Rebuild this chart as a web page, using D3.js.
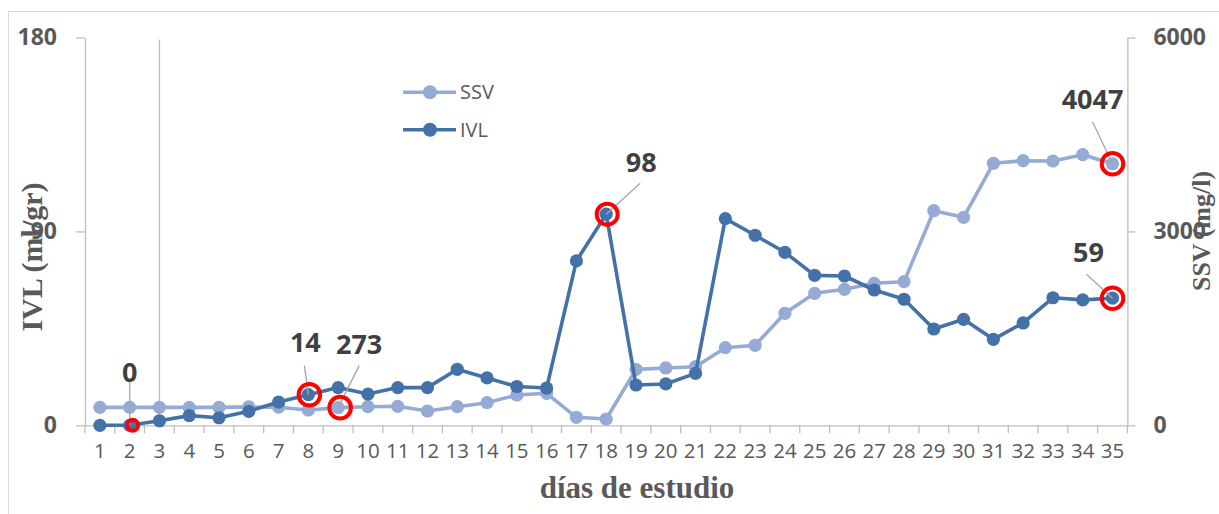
<!DOCTYPE html>
<html>
<head>
<meta charset="utf-8">
<script src="https://cdn.jsdelivr.net/npm/d3@7"></script>
<style>
  html, body { margin: 0; padding: 0; background: #fff; }
  svg { display: block; }
</style>
</head>
<body>
<svg id="chart" width="1219" height="514"></svg>
<script>
// ---------- data ----------
const days = d3.range(1, 36);
const ivl = [0, 0, 2.1, 4.5, 3.5, 6.5, 10.8, 14.2, 17.5, 14.5, 17.5, 17.5, 26, 22, 18, 17.3, 76.3, 98,
  18.7, 19.2, 24.1, 95.9, 88.2, 80.3, 69.6, 69.3, 62.8, 58.5, 44.7, 49.2, 39.9, 47.5, 59.2, 58.2, 59];
const ssv = [278, 278, 278, 278, 278, 285, 280, 237, 273, 288, 294, 221, 288, 350, 469, 495, 124, 97,
  866, 887, 907, 1201, 1238, 1733, 2042, 2104, 2197, 2222, 3320, 3218, 4054, 4094, 4089, 4187, 4047];
const leftTicks = [0, 90, 180];
const rightTicks = [0, 3000, 6000];
const seriesNames = ["SSV", "IVL"];
// highlighted points: [series, day]
const highlights = [["IVL", 2], ["IVL", 8], ["SSV", 9], ["IVL", 18], ["SSV", 35], ["IVL", 35]];
// annotated values: [series, day]
const annotated = [["IVL", 2], ["IVL", 8], ["SSV", 9], ["IVL", 18], ["SSV", 35], ["IVL", 35]];

// ---------- layout / style ----------
const colSSV = "#95abd5", colIVL = "#4472a8", axisCol = "#bfbfbf", textCol = "#595959";
const svg = d3.select("#chart");
const x = d3.scaleBand().domain(days).range([85, 1127.4]).padding(0);
const cx = d => x(d) + x.bandwidth() / 2;
const yL = d3.scaleLinear().domain([0, 180]).range([425.3, 37.5]);
const yR = d3.scaleLinear().domain([0, 6000]).range([425.3, 37.5]);

// chart frame
svg.append("rect").attr("x", 8.5).attr("y", 11.5).attr("width", 1230).attr("height", 520)
  .attr("fill", "none").attr("stroke", "#d9d9d9").attr("stroke-width", 1);

// left axis
const gL = svg.append("g").attr("transform", "translate(85,0)")
  .call(d3.axisLeft(yL).tickValues(leftTicks).tickFormat(d3.format("d"))
    .tickSize(9).tickSizeOuter(0).tickPadding(19));
gL.select(".domain").attr("stroke", axisCol).attr("stroke-width", 1.3);
gL.selectAll(".tick line").attr("stroke", axisCol).attr("stroke-width", 1.3);
gL.selectAll(".tick text").attr("fill", textCol).attr("font-family", "Open Sans")
  .attr("font-weight", "bold").attr("font-size", 23);

// right axis
const gR = svg.append("g").attr("transform", "translate(1127.4,0)")
  .call(d3.axisRight(yR).tickValues(rightTicks).tickFormat(d3.format("d"))
    .tickSize(8).tickSizeOuter(0).tickPadding(18));
gR.select(".domain").attr("stroke", axisCol).attr("stroke-width", 1.3);
gR.selectAll(".tick line").attr("stroke", axisCol).attr("stroke-width", 1.3);
gR.selectAll(".tick text").attr("fill", textCol).attr("font-family", "Open Sans")
  .attr("font-weight", "bold").attr("font-size", 23);

// x axis
const gX = svg.append("g").attr("transform", `translate(0,${yL(0)})`)
  .call(d3.axisBottom(x).tickSize(0).tickSizeOuter(0).tickPadding(18));
gX.select(".domain").attr("stroke", axisCol).attr("stroke-width", 1.3);
gX.selectAll(".tick text").attr("fill", textCol).attr("font-family", "Open Sans")
  .attr("font-size", 20.5);
// boundary tick marks
const bounds = days.map(d => x(d)).concat([x.range()[1]]);
gX.selectAll("line.bt").data(bounds).join("line").attr("class", "bt")
  .attr("x1", d => d).attr("x2", d => d).attr("y1", 0).attr("y2", 8)
  .attr("stroke", axisCol).attr("stroke-width", 1.3);

// vertical reference line at day 3
svg.append("line").attr("x1", cx(3)).attr("x2", cx(3))
  .attr("y1", yL.range()[1] + 2).attr("y2", yL(0))
  .attr("stroke", axisCol).attr("stroke-width", 1.3);

// axis titles
svg.append("text").attr("transform", `translate(42,257) rotate(-90)`)
  .attr("text-anchor", "middle").attr("font-family", "Liberation Serif").attr("font-weight", "bold")
  .attr("font-size", 30).attr("fill", textCol).text("IVL (ml/gr)");
svg.append("text").attr("transform", `translate(1210,231) rotate(-90)`)
  .attr("text-anchor", "middle").attr("font-family", "Liberation Serif").attr("font-weight", "bold")
  .attr("font-size", 26).attr("fill", textCol).text("SSV (mg/l)");
svg.append("text").attr("x", 637).attr("y", 498)
  .attr("text-anchor", "middle").attr("font-family", "Liberation Serif").attr("font-weight", "bold")
  .attr("font-size", 31).attr("fill", textCol).text("días de estudio");

// series
const series = {
  SSV: { vals: ssv, y: yR, col: colSSV },
  IVL: { vals: ivl, y: yL, col: colIVL }
};
const ptX = (s, d) => cx(d);
const ptY = (s, d) => series[s].y(series[s].vals[d - 1]);

seriesNames.forEach(name => {
  const s = series[name];
  const line = d3.line().x((v, i) => cx(days[i])).y(v => s.y(v));
  svg.append("path").datum(s.vals).attr("d", line).attr("fill", "none")
    .attr("stroke", s.col).attr("stroke-width", 3.6).attr("stroke-linejoin", "round");
  svg.append("g").selectAll("circle").data(s.vals).join("circle")
    .attr("cx", (v, i) => cx(days[i])).attr("cy", v => s.y(v)).attr("r", 6.6).attr("fill", s.col);
});

// legend
const legY = [92.3, 129.7];
seriesNames.forEach((name, i) => {
  const g = svg.append("g").attr("transform", `translate(0,${legY[i]})`);
  g.append("line").attr("x1", 403).attr("x2", 456).attr("y1", 0).attr("y2", 0)
    .attr("stroke", series[name].col).attr("stroke-width", 3.6);
  g.append("circle").attr("cx", 430).attr("cy", 0).attr("r", 7).attr("fill", series[name].col);
  g.append("text").attr("x", 460).attr("y", 7).attr("font-family", "Open Sans")
    .attr("font-size", 20).attr("fill", textCol).text(name);
});

// annotation label / leader offsets (relative to the point)
const labelOff = [[0, -53], [-3, -52], [21, -63], [35, -52], [-20, -64], [-24, -46]];
const leaderOff = [[0, -43.6], [-4, -29], [21, -42], [34, -31], [-20, -42], [-26, -24]];
annotated.forEach(([s, d], i) => {
  const px = ptX(s, d), py = ptY(s, d);
  svg.append("line").attr("x1", px + leaderOff[i][0]).attr("y1", py + leaderOff[i][1])
    .attr("x2", px).attr("y2", py).attr("stroke", "#a6a6a6").attr("stroke-width", 1.3);
  svg.append("text").attr("x", px + labelOff[i][0]).attr("y", py + labelOff[i][1])
    .attr("dy", "0.36em").attr("text-anchor", "middle").attr("font-family", "Open Sans")
    .attr("font-weight", "bold").attr("font-size", 27).attr("fill", "#404040")
    .text(Math.round(series[s].vals[d - 1]));
});

// red highlight rings
const ringR = [5.5, 10.8, 10.8, 10.5, 10.8, 10.8];
const ringDx = [3, 1, 2, 1, 0, 0];
highlights.forEach(([s, d], i) => {
  svg.append("circle").attr("cx", ptX(s, d) + ringDx[i]).attr("cy", ptY(s, d))
    .attr("r", ringR[i]).attr("fill", "none").attr("stroke", "#ff0000").attr("stroke-width", 4);
});
</script>
</body>
</html>
